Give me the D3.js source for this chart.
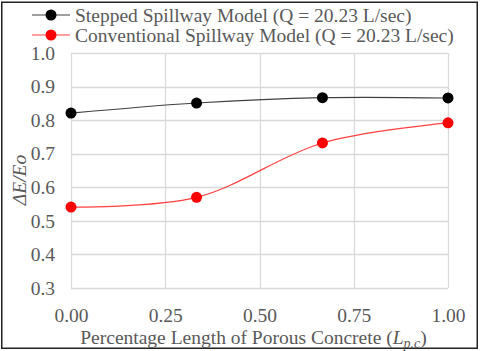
<!DOCTYPE html>
<html lang="en">
<head>
<meta charset="utf-8">
<title>Energy dissipation vs porous concrete length</title>
<script src="https://d3js.org/d3.v7.min.js"></script>
<style>
body { margin: 0; background: #fff; font-family: 'Liberation Serif', serif; }
</style>
</head>
<body>
<div id="chart"></div>
<script>
// data
var lengths = [0, 0.333, 0.667, 1.0];
var stepped = [0.821, 0.851, 0.867, 0.866];
var conventional = [0.541, 0.570, 0.732, 0.792];
var xTicks = [0, 0.25, 0.5, 0.75, 1.0];
var yTicks = [0.3, 0.4, 0.5, 0.6, 0.7, 0.8, 0.9, 1.0];
var seriesNames = ["Stepped Spillway Model (Q = 20.23 L/sec)", "Conventional Spillway Model (Q = 20.23 L/sec)"];
var seriesColors = ["#000000", "#ff0000"];
var lineColors = ["#404040", "#ff4040"];

var FONT = "Liberation Serif, serif";
var FS = 19.5;
var W = 480, H = 351;
var margin = {top: 53, right: 32, bottom: 63, left: 71},
    width = W - margin.left - margin.right,
    height = H - margin.top - margin.bottom;

var svg = d3.select("#chart").append("svg")
  .attr("width", W).attr("height", H)
  .attr("font-family", FONT);

// outer frame
svg.append("rect")
  .attr("x", 1.75).attr("y", 2.25)
  .attr("width", W - 4.5).attr("height", H - 5)
  .attr("fill", "none").attr("stroke", "#222").attr("stroke-width", 1.5);

var g = svg.append("g").attr("transform", "translate(" + margin.left + "," + margin.top + ")");

var x = d3.scaleLinear().domain([0, 1]).range([0, width]);
var y = d3.scaleLinear().domain([0.3, 1.0]).range([height, 0]);

// grid
g.selectAll(".hgrid").data(yTicks).enter().append("line")
  .attr("x1", 0).attr("x2", width)
  .attr("y1", function(d) { return Math.round(y(d)) + 0.5; })
  .attr("y2", function(d) { return Math.round(y(d)) + 0.5; })
  .attr("stroke", "#d9d9d9").attr("stroke-width", 1.3);
g.selectAll(".vgrid").data(xTicks).enter().append("line")
  .attr("y1", 0).attr("y2", height)
  .attr("x1", function(d) { return Math.round(x(d)) + 0.5; })
  .attr("x2", function(d) { return Math.round(x(d)) + 0.5; })
  .attr("stroke", "#d9d9d9").attr("stroke-width", 1.3);

// axes
var xAxis = g.append("g").attr("transform", "translate(0," + height + ")")
  .call(d3.axisBottom(x).tickValues(xTicks).tickSize(0).tickPadding(20)
    .tickFormat(d3.format(".2f")));
var yAxis = g.append("g")
  .call(d3.axisLeft(y).tickValues(yTicks).tickSize(0).tickPadding(16)
    .tickFormat(d3.format(".1f")));
[xAxis, yAxis].forEach(function(a) {
  a.attr("font-family", FONT).attr("font-size", FS);
  a.select(".domain").remove();
  a.selectAll("text").attr("fill", "#595959");
});
xAxis.selectAll("text").attr("dy", "0.71em");

// axis titles
var xt = svg.append("text")
  .attr("x", margin.left + width / 2 - 6).attr("y", 344)
  .attr("text-anchor", "middle").attr("font-size", FS).attr("fill", "#595959");
xt.append("tspan").text("Percentage Length of Porous Concrete (");
xt.append("tspan").attr("font-style", "italic").text("L");
xt.append("tspan").attr("font-style", "italic").attr("font-size", 14).attr("dy", 4).text("p.c");
xt.append("tspan").attr("dy", -4).text(")");

svg.append("text")
  .attr("transform", "translate(26,180) rotate(-90)")
  .attr("text-anchor", "middle").attr("fill", "#595959")
  .attr("font-size", FS).attr("font-style", "italic")
  .text("ΔE/Eo");

// lines
var line = d3.line()
  .x(function(d) { return x(d[0]); })
  .y(function(d) { return y(d[1]); })
  .curve(d3.curveCatmullRom.alpha(0.5));

var series = [stepped, conventional];
series.forEach(function(vals, i) {
  var pts = lengths.map(function(l, j) { return [l, vals[j]]; });
  g.append("path").datum(pts)
    .attr("d", line).attr("fill", "none")
    .attr("stroke", lineColors[i]).attr("stroke-width", 1.2);
  g.selectAll(".dot" + i).data(pts).enter().append("circle")
    .attr("cx", function(d) { return x(d[0]); })
    .attr("cy", function(d) { return y(d[1]); })
    .attr("r", 5.5).attr("fill", seriesColors[i]);
});

// legend
var leg = svg.append("g");
seriesNames.forEach(function(name, i) {
  var ly = 15 + i * 20;
  leg.append("line").attr("x1", 32).attr("x2", 70).attr("y1", ly).attr("y2", ly)
    .attr("stroke", lineColors[i]).attr("stroke-width", 1.2);
  leg.append("circle").attr("cx", 51).attr("cy", ly).attr("r", 5.5).attr("fill", seriesColors[i]);
  leg.append("text").attr("x", 75).attr("y", ly).attr("dy", "0.35em")
    .attr("font-size", FS).attr("fill", "#595959").text(name);
});
</script>
</body>
</html>
